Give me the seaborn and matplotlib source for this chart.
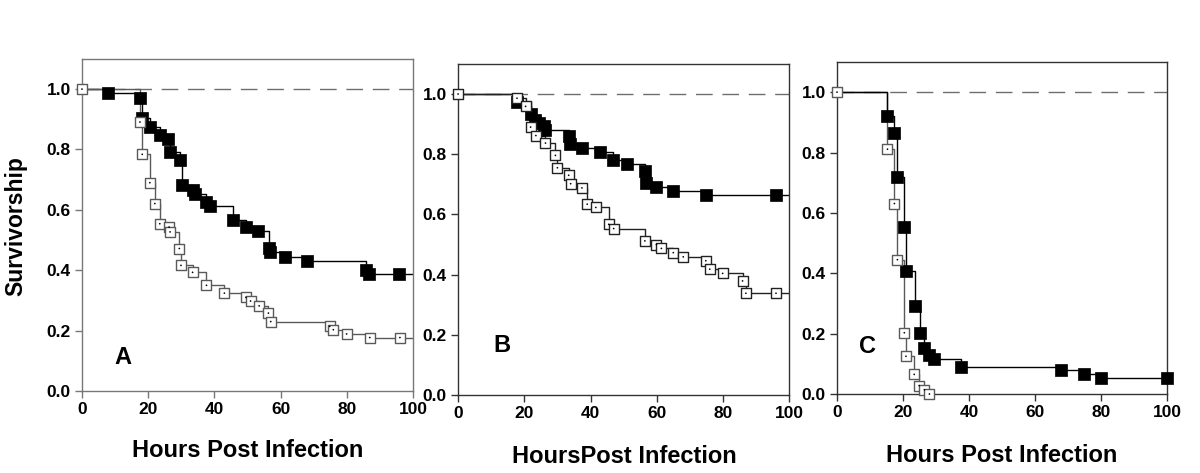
import matplotlib
matplotlib.use("Agg")
import matplotlib.pyplot as plt
import numpy as np
import pandas as pd
import seaborn as sns

# panel A - black (filled) and open groups, marker positions (hours, survivorship)
a_black_t = [8.0, 17.5, 18.0, 20.5, 23.5, 26.0, 26.5, 29.6, 30.1, 33.4, 34.0, 37.6, 38.8,
             45.5, 49.5, 53.3, 56.4, 56.9, 61.4, 67.8, 85.9, 86.7, 95.8]
a_black_s = [0.986, 0.972, 0.903, 0.876, 0.847, 0.834, 0.793, 0.765, 0.681, 0.666, 0.653, 0.626, 0.612,
             0.568, 0.542, 0.529, 0.474, 0.460, 0.445, 0.431, 0.402, 0.389, 0.389]
a_open_t = [0.0, 17.5, 18.2, 20.5, 22.0, 23.5, 26.3, 26.6, 29.4, 29.9, 33.4, 37.6, 43.0,
            49.5, 50.9, 53.5, 56.3, 57.0, 74.8, 75.9, 79.9, 86.9, 96.0]
a_open_s = [1.0, 0.891, 0.784, 0.690, 0.621, 0.554, 0.543, 0.527, 0.472, 0.416, 0.393, 0.350, 0.324,
            0.310, 0.298, 0.282, 0.258, 0.230, 0.214, 0.203, 0.189, 0.177, 0.177]

# panel B
b_black_t = [17.8, 22.0, 23.2, 24.5, 25.9, 26.4, 33.4, 33.9, 37.3, 42.8, 46.8, 50.9,
             56.4, 56.9, 59.7, 64.8, 74.8, 95.9]
b_black_s = [0.972, 0.934, 0.914, 0.903, 0.895, 0.881, 0.859, 0.834, 0.820, 0.807, 0.782, 0.768,
             0.744, 0.704, 0.691, 0.677, 0.665, 0.665]
b_open_t = [0.0, 17.8, 20.4, 21.9, 23.5, 26.4, 29.4, 30.0, 33.4, 34.0, 37.4, 39.0, 41.6,
            45.5, 47.0, 56.4, 59.9, 61.4, 65.0, 68.0, 74.8, 76.0, 79.9, 85.9, 86.9, 96.0]
b_open_s = [1.0, 0.986, 0.959, 0.890, 0.862, 0.837, 0.796, 0.755, 0.730, 0.702, 0.688, 0.634, 0.623,
            0.567, 0.553, 0.512, 0.500, 0.487, 0.473, 0.459, 0.446, 0.418, 0.404, 0.379, 0.338, 0.338]

# panel C
c_black_t = [15.3, 17.4, 18.3, 20.4, 21.0, 23.5, 25.0, 26.5, 28.0, 29.4, 37.5, 68.0, 74.9, 79.9, 100.0]
c_black_s = [0.921, 0.864, 0.718, 0.552, 0.408, 0.293, 0.203, 0.151, 0.130, 0.115, 0.089,
             0.078, 0.066, 0.052, 0.052]
c_open_t = [0.0, 15.3, 17.4, 18.3, 20.4, 20.9, 23.4, 24.9, 26.5, 28.0]
c_open_s = [1.0, 0.811, 0.631, 0.445, 0.203, 0.125, 0.065, 0.028, 0.014, 0.0]

panel_letters = ["A", "B", "C"]
x_titles = ["Hours Post Infection", "HoursPost Infection", "Hours Post Infection"]
x_ticks = [0, 20, 40, 60, 80, 100]
y_ticks = [0.0, 0.2, 0.4, 0.6, 0.8, 1.0]

sns.set_style("white")
plt.rcParams['font.family'] = ['Liberation Sans', 'DejaVu Sans']
plt.rcParams['text.color'] = 'black'
plt.rcParams['xtick.labelcolor'] = 'black'
plt.rcParams['ytick.labelcolor'] = 'black'


def step_frame(t, s, end):
    # survival curve runs from (0, 1) and holds the last value to the axis end
    xs = list(t)
    ys = list(s)
    if xs[0] != 0.0:
        xs = [0.0] + xs
        ys = [1.0] + ys
    if xs[-1] < end:
        xs = xs + [end]
        ys = ys + [ys[-1]]
    return pd.DataFrame({"hours": xs, "surv": ys})


def draw_panel(ax, black, opened, open_col, spine_col, letter, letter_xy, first_open):
    ax.axhline(1.0, color="#6e6e6e", lw=1.0, dashes=(12, 7), zorder=1)

    bt, bs = black
    ot, os_ = opened
    bl = step_frame(bt, bs, 100)
    op = step_frame(ot, os_, ot[-1] if os_[-1] == 0 else 100)

    if first_open:
        sns.lineplot(data=bl, x="hours", y="surv", ax=ax, estimator=None, sort=False,
                     drawstyle="steps-post", color="black", lw=1.0, zorder=2)
        sns.lineplot(data=op, x="hours", y="surv", ax=ax, estimator=None, sort=False,
                     drawstyle="steps-post", color=open_col, lw=1.0, zorder=2)
    else:
        sns.lineplot(data=op, x="hours", y="surv", ax=ax, estimator=None, sort=False,
                     drawstyle="steps-post", color=open_col, lw=1.0, zorder=2)
        sns.lineplot(data=bl, x="hours", y="surv", ax=ax, estimator=None, sort=False,
                     drawstyle="steps-post", color="black", lw=1.0, zorder=2)

    dfb = pd.DataFrame({"hours": bt, "surv": bs})
    dfo = pd.DataFrame({"hours": ot, "surv": os_})
    sns.scatterplot(data=dfb, x="hours", y="surv", ax=ax, marker="s", s=72,
                    color="black", edgecolor="black", linewidth=0.5, zorder=3, clip_on=False)
    sns.scatterplot(data=dfo, x="hours", y="surv", ax=ax, marker="s", s=50,
                    color="white", edgecolor=open_col, linewidth=1.0, zorder=4, clip_on=False)
    sns.scatterplot(data=dfo, x="hours", y="surv", ax=ax, marker="o", s=1.5,
                    color="black", edgecolor="none", zorder=5, clip_on=False)

    ax.set_xlim(0, 100)
    ax.set_ylim(0, 1.1)
    ax.set_xticks(x_ticks)
    ax.set_yticks(y_ticks)
    ax.set_xticklabels([str(v) for v in x_ticks], fontsize=12.5, fontweight="bold")
    ax.set_yticklabels([f"{v:.1f}" for v in y_ticks], fontsize=12.5, fontweight="bold")
    ax.tick_params(axis="both", direction="out", length=5, width=1, color=spine_col,
                   labelcolor="black", pad=3, bottom=True, left=True, right=False, top=False)
    ax.set_xlabel("")
    ax.set_ylabel("")
    for sp in ax.spines.values():
        sp.set_visible(True)
        sp.set_color(spine_col)
        sp.set_linewidth(1.0)
    ax.text(letter_xy[0], letter_xy[1], letter, fontsize=17, fontweight="bold",
            ha="center", va="center", color="black")


fig = plt.figure(figsize=(12, 4.73), dpi=100)
ax1 = fig.add_axes([0.0683, 0.1734, 0.276, 0.702])
ax2 = fig.add_axes([0.3817, 0.1649, 0.276, 0.700])
ax3 = fig.add_axes([0.6975, 0.1670, 0.275, 0.702])

draw_panel(ax1, (a_black_t, a_black_s), (a_open_t, a_open_s), "#5a5a5a", "#777777",
           panel_letters[0], (12.4, 0.11), True)
draw_panel(ax2, (b_black_t, b_black_s), (b_open_t, b_open_s), "#222222", "#333333",
           panel_letters[1], (13.3, 0.166), True)
draw_panel(ax3, (c_black_t, c_black_s), (c_open_t, c_open_s), "#5a5a5a", "#333333",
           panel_letters[2], (9.1, 0.156), False)

fig.text(0.0133, 0.522, "Survivorship", rotation=90, fontsize=16.5, fontweight="bold",
         ha="center", va="center")
fig.text(0.206, 0.0486, x_titles[0], fontsize=17, fontweight="bold", ha="center", va="center")
fig.text(0.520, 0.034, x_titles[1], fontsize=17, fontweight="bold", ha="center", va="center")
fig.text(0.835, 0.038, x_titles[2], fontsize=17, fontweight="bold", ha="center", va="center")

fig.savefig("out.png", dpi=100, facecolor="white")
